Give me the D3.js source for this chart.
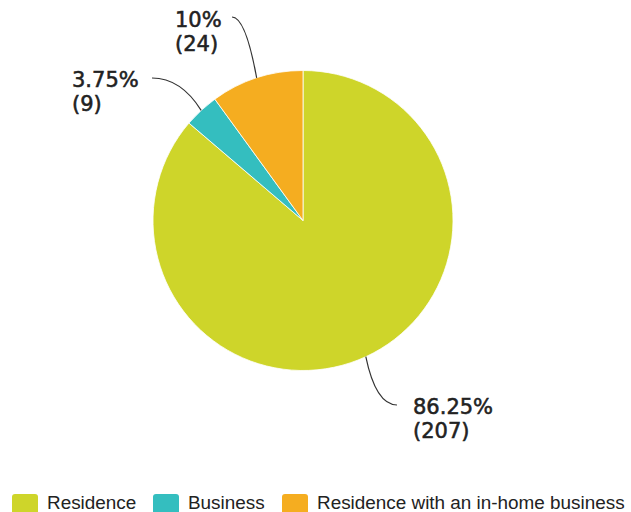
<!DOCTYPE html>
<html><head><meta charset="utf-8">
<script src="https://cdn.jsdelivr.net/npm/d3@7/dist/d3.min.js"></script>
<style>html,body{margin:0;padding:0;background:#fff;overflow:hidden}</style>
</head><body>
<svg id="chart" width="631" height="512"></svg>
<script>
const categories = ["Residence", "Business", "Residence with an in-home business"];
const counts = [207, 9, 24];
const percentLabels = ["86.25%", "3.75%", "10%"];
const colors = ["#CED52A", "#34BEBF", "#F5AD20"];

const svg = d3.select("#chart");
const cx = 303, cy = 220.5, R = 150;
const g = svg.append("g").attr("transform", `translate(${cx},${cy})`);

const pie = d3.pie().sort(null).value(d => d)(counts);
const arc = d3.arc().innerRadius(0).outerRadius(R);

g.selectAll("path.slice").data(pie).join("path")
  .attr("class", "slice")
  .attr("d", arc)
  .attr("fill", (d, i) => colors[i])
  .attr("stroke", "#fff").attr("stroke-width", 0.8);

// label anchors (offsets relative to pie centre) and connector ends
const labelPos = [
  {tx: 110, ty: 193.5, ex: 94, ey: 184.5, cxo: 1.32},
  {tx: -231, ty: -133.5, ex: -151, ey: -142.5, cxo: 1.4},
  {tx: -128, ty: -193.5, ex: -71, ey: -203.5, cxo: 1.48}
];

pie.forEach((d, i) => {
  const a = (d.startAngle + d.endAngle) / 2;
  const sx = R * Math.sin(a), sy = -R * Math.cos(a);
  const p = labelPos[i];
  const path = d3.path();
  path.moveTo(sx, sy);
  path.quadraticCurveTo(sx + (R * p.cxo * Math.sin(a) - sx) * 0.5, p.ey, p.ex, p.ey);
  g.append("path").attr("d", path.toString())
    .attr("fill", "none").attr("stroke", "#333").attr("stroke-width", 1.2);
  const t = g.append("text")
    .attr("font-family", "DejaVu Sans, Verdana, sans-serif")
    .attr("font-size", 21)
    .attr("fill", "#222").attr("stroke", "#222").attr("stroke-width", 0.55);
  t.append("tspan").attr("x", p.tx).attr("y", p.ty).text(percentLabels[i]);
  t.append("tspan").attr("x", p.tx).attr("y", p.ty + 24).text(`(${counts[i]})`);
});

// legend
const legendX = [12, 153, 282];
const lg = svg.append("g");
categories.forEach((c, i) => {
  lg.append("rect").attr("x", legendX[i]).attr("y", 494).attr("width", 26).attr("height", 24)
    .attr("rx", 3).attr("fill", colors[i]);
  lg.append("text").attr("x", legendX[i] + 35).attr("y", 509)
    .attr("font-family", "Liberation Sans, Arial, sans-serif")
    .attr("font-size", 18.9).attr("fill", "#222").text(c);
});
</script>
</body></html>
